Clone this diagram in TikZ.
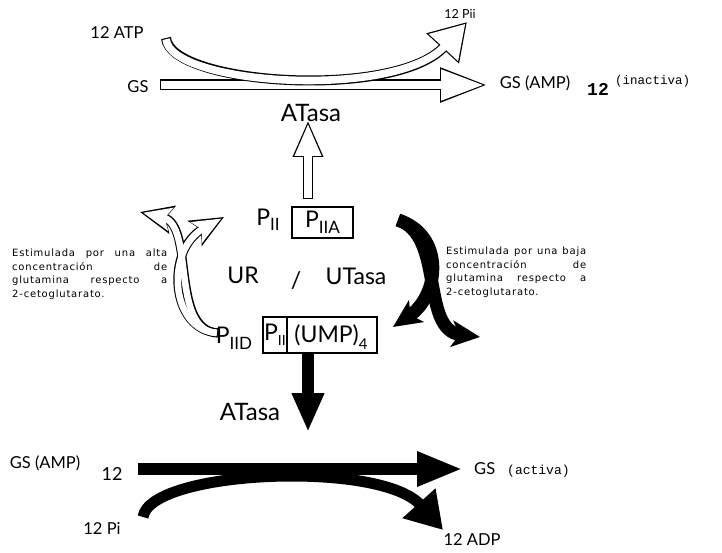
\documentclass[tikz,border=0pt]{standalone}
\usepackage{fontspec}
\setmainfont{Lato}
\newfontfamily\monofont{Liberation Mono}
\newfontfamily\notefont[LetterSpace=8]{DejaVu Sans}
\usetikzlibrary{positioning,arrows.meta}

\begin{document}
\begin{tikzpicture}[x=1pt, y=-1pt,
  lbl/.style={inner sep=0pt, font=\fontsize{16.5}{18}\selectfont},
  big/.style={inner sep=0pt, font=\fontsize{23}{26}\selectfont},
  mono/.style={inner sep=0pt, font=\monofont\fontsize{12.5}{14}\selectfont},
  note/.style={inner sep=0pt, anchor=north west, align=justify,
               font=\notefont\fontsize{10}{13.5}\selectfont},
  cbox/.style={draw, line width=1.1pt, inner sep=0pt},
  holout/.style={draw=black, line width=#1},
  holin/.style={draw=white, line width=#1},
  blk/.style={draw=black, line width=#1}
]
\useasboundingbox (0,0) rectangle (722,553);

% labels, top reaction
\node[lbl] (atp) at (117,33) {12 ATP};
\node[lbl] (gs1) at (138,87) {GS};
\node[lbl, font=\fontsize{12.5}{14}\selectfont] (pii) at (460,14) {12 Pii};
\node[lbl] (gsamp1) at (535,83) {GS (AMP)};
\node[mono, font=\monofont\bfseries\fontsize{18}{20}\selectfont] (n12a) at (598,89) {12};
\node[mono, right=6pt of n12a, yshift=8pt] (inact) {(inactiva)};
\node[big, font=\fontsize{24}{26}\selectfont] (atasa1) at (311,113) {ATasa};

% middle: the PII forms
\node[big] (pII) at (268,220) {P\raisebox{-.4ex}{\fontsize{17}{17}\selectfont II}};
\node[big, cbox, minimum width=61pt, minimum height=31pt] (pIIA) at (322.5,222.5)
  {P\raisebox{-.5ex}{\fontsize{17}{17}\selectfont IIA}};
\node[big] (ur) at (243,275) {UR};
\node[big] (slash) at (296,281) {/};
\node[big] (utasa) at (356,276) {UTasa};
\node[big] (pIID) at (234,338) {P\raisebox{-.5ex}{\fontsize{17}{17}\selectfont IID}};
\node[cbox, minimum width=114pt, minimum height=36pt] (umpbox) at (320,335) {};
\node[big, cbox, minimum width=24pt, minimum height=36pt] (pII2) at (275,335)
  {P\raisebox{-.4ex}{\fontsize{14}{14}\selectfont II}};
\node[big] (ump) at (331,337) {(UMP)\raisebox{-.6ex}{\fontsize{15}{15}\selectfont 4}};

\node[note, text width=155pt] (notel) at (12,249)
  {Estimulada por una alta\linebreak concentración de\linebreak
   glutamina respecto a\linebreak 2-cetoglutarato.};
\node[note, text width=140pt] (noter) at (446,247)
  {Estimulada por una baja\linebreak concentración de\linebreak
   glutamina respecto a\linebreak 2-cetoglutarato.};

% labels, bottom reaction
\node[big, font=\fontsize{24}{26}\selectfont] (atasa2) at (250,412) {ATasa};
\node[lbl] (gsamp2) at (45,463) {GS (AMP)};
\node[lbl, font=\fontsize{18}{20}\selectfont] (n12b) at (112,474) {12};
\node[lbl] (pi) at (102,528) {12 Pi};
\node[lbl, anchor=west] (gsact) at (474,470)
  {GS {\monofont\fontsize{13}{14}\selectfont\ (activa)}};
\node[lbl] (adp) at (472,540) {12 ADP};

% arrow ends
\coordinate (gsS) at (160,85);
\coordinate (gsE) at (488,85);
\coordinate (atpS) at (166,38);
\coordinate (piiE) at (467,22);
\coordinate (upS) at (308,199);
\coordinate (upE) at (308,120);
\coordinate (lS) at (218,333);
\coordinate (lA) at (140,212);
\coordinate (lB) at (224,217);
\coordinate (rS) at (398,220);
\coordinate (rA) at (393,327);
\coordinate (rB) at (480,337);
\coordinate (dnS) at (308,354);
\coordinate (dnE) at (308,432);
\coordinate (gs2S) at (138,469);
\coordinate (gs2E) at (463,469);
\coordinate (piS) at (143,517);
\coordinate (adpE) at (443,530);

% open arrows
\draw[holout=11pt, -{Triangle[length=48pt,width=32pt]}] (gsS) -- (gsE);
\draw[holin=8.6pt, -{Triangle[length=43pt,width=28.7pt]},
      shorten <=1.2pt, shorten >=3.8pt] (gsS) -- (gsE);
\draw[holout=10pt, -{Triangle[length=36pt,width=42pt]}]
  (atpS) .. controls (170,85) and (395,100) .. (piiE);
\draw[holin=7.6pt, -{Triangle[length=32.4pt,width=37.8pt]},
      shorten <=1.2pt, shorten >=2.4pt]
  (atpS) .. controls (170,85) and (395,100) .. (piiE);
\draw[holout=10pt, -{Triangle[length=37pt,width=28pt]}] (upS) -- (upE);
\draw[holin=7.6pt, -{Triangle[length=32.4pt,width=24.5pt]},
      shorten <=1.2pt, shorten >=3.4pt] (upS) -- (upE);
\draw[holout=9pt, -{Stealth[length=33pt,width=28pt,inset=7pt]}]
  (lS) .. controls (170,330) and (195,225) .. (lA);
\draw[holout=9pt, -{Stealth[length=33pt,width=28pt,inset=7pt]}]
  (lS) .. controls (170,330) and (165,250) .. (lB);
\draw[holin=6.6pt, -{Stealth[length=28pt,width=23pt,inset=6pt]},
      shorten <=1.2pt, shorten >=3.2pt]
  (lS) .. controls (170,330) and (195,225) .. (lA);
\draw[holin=6.6pt, -{Stealth[length=28pt,width=23pt,inset=6pt]},
      shorten <=1.2pt, shorten >=3.2pt]
  (lS) .. controls (170,330) and (165,250) .. (lB);

% filled arrows
\draw[blk=13pt, -{Stealth[length=28pt,width=26pt,inset=7pt]}]
  (rS) .. controls (445,235) and (440,295) .. (rA);
\draw[blk=13pt, -{Stealth[length=28pt,width=26pt,inset=7pt]}]
  (rS) .. controls (445,235) and (420,330) .. (rB);
\draw[blk=12pt, -{Triangle[length=39pt,width=30pt]}] (dnS) -- (dnE);
\draw[blk=12pt, -{Triangle[length=46pt,width=32pt]}] (gs2S) -- (gs2E);
\draw[blk=11pt, -{Triangle[length=36pt,width=42pt]}]
  (piS) .. controls (150,470) and (380,460) .. (adpE);
\end{tikzpicture}
\end{document}
